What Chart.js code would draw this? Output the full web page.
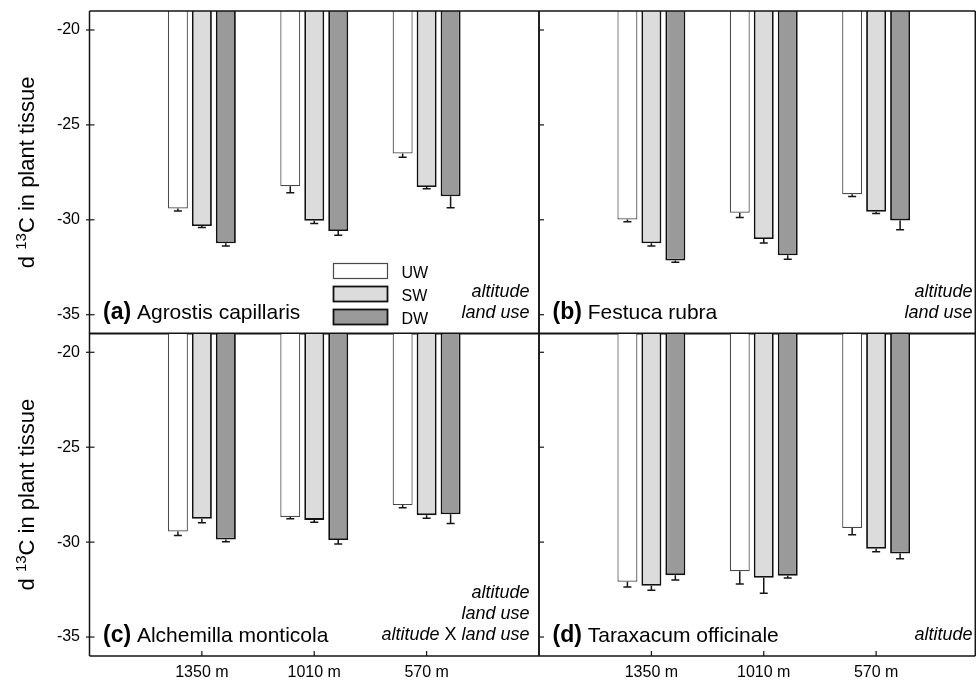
<!DOCTYPE html>
<html><head><meta charset="utf-8">
<script src="https://cdn.jsdelivr.net/npm/chart.js@4"></script>
<style>
html,body{margin:0;padding:0;background:#fff;overflow:hidden}
#wrap{position:relative;width:976px;height:683px;overflow:hidden;background:#fff}
#wrap canvas{position:absolute;left:0;top:0}
</style></head><body><div id="wrap">
<canvas id="pa" width="1000" height="683"></canvas>
<canvas id="pb" width="1000" height="683"></canvas>
<canvas id="pc" width="1000" height="683"></canvas>
<canvas id="pd" width="1000" height="683"></canvas>
</div>
<script>
// ---------- data ----------
const categories = ['1350 m', '1010 m', '570 m'];
const seriesNames = ['UW', 'SW', 'DW'];
const yTickValues = [-35, -30, -25, -20];
const yMin = -36, yMax = -19;

// (a) Agrostis capillaris
const aUW = [-29.40, -28.23, -26.51], aUWerr = [0.13, 0.35, 0.19];
const aSW = [-30.33, -30.05, -28.27], aSWerr = [0.07, 0.14, 0.10];
const aDW = [-31.24, -30.59, -28.76], aDWerr = [0.14, 0.23, 0.61];
// (b) Festuca rubra
const bUW = [-29.98, -29.63, -28.65], bUWerr = [0.12, 0.25, 0.12];
const bSW = [-31.24, -31.01, -29.58], bSWerr = [0.14, 0.21, 0.09];
const bDW = [-32.15, -31.87, -30.03], bDWerr = [0.09, 0.21, 0.49];
// (c) Alchemilla monticola
const cUW = [-29.44, -28.68, -28.05], cUWerr = [0.21, 0.09, 0.14];
const cSW = [-28.77, -28.83, -28.58], cSWerr = [0.21, 0.12, 0.16];
const cDW = [-29.86, -29.89, -28.53], cDWerr = [0.12, 0.21, 0.49];
// (d) Taraxacum officinale
const dUW = [-32.09, -31.53, -29.26], dUWerr = [0.28, 0.68, 0.35];
const dSW = [-32.30, -31.88, -30.35], dSWerr = [0.23, 0.82, 0.16];
const dDW = [-31.74, -31.77, -30.60], dDWerr = [0.25, 0.12, 0.28];

const panelLetters = ['(a)', '(b)', '(c)', '(d)'];
const speciesNames = ['Agrostis capillaris', 'Festuca rubra', 'Alchemilla monticola', 'Taraxacum officinale'];
const yTitleMain = 'd ', yTitleSup = '13', yTitleRest = 'C in plant tissue';

// ---------- styles ----------
const FONT = '"Liberation Sans", Arial, Helvetica, sans-serif';
const INK = '#151515';
const fills = ['#ffffff', '#dcdcdc', '#9a9a9a'];
const borders = ['#4a4a4a', '#111111', '#111111'];
const borderWidths = [1.2, 1.8, 1.8];
const VISIBLE_RIGHT = 975.3;

const panels = [
  { id: 'pa', vals: [aUW, aSW, aDW], errs: [aUWerr, aSWerr, aDWerr], left: true, bottom: false, legend: true,
    notes: [[['altitude', true]], [['land use', true]]], noteRight: 529.5 },
  { id: 'pb', vals: [bUW, bSW, bDW], errs: [bUWerr, bSWerr, bDWerr], left: false, bottom: false, legend: false,
    notes: [[['altitude', true]], [['land use', true]]], noteRight: 972.5 },
  { id: 'pc', vals: [cUW, cSW, cDW], errs: [cUWerr, cSWerr, cDWerr], left: true, bottom: true, legend: false,
    notes: [[['altitude', true]], [['land use', true]], [['altitude', true], [' X ', false], ['land use', true]]], noteRight: 529.5 },
  { id: 'pd', vals: [dUW, dSW, dDW], errs: [dUWerr, dSWerr, dDWerr], left: false, bottom: true, legend: false,
    notes: [[['altitude', true]]], noteRight: 972.5 },
];

const xLabels = [''].concat(categories).concat(['']);

const decorPlugin = {
  id: 'decor',
  afterDatasetsDraw(chart) {
    const p = chart.options.plugins.decor;
    const ctx = chart.ctx;
    const ca = chart.chartArea;
    const ys = chart.scales.y, xs = chart.scales.x;
    ctx.save();
    // error bars
    ctx.strokeStyle = INK;
    ctx.lineWidth = 1.5;
    chart.data.datasets.forEach((ds, di) => {
      const meta = chart.getDatasetMeta(di);
      meta.data.forEach((el, i) => {
        const v = ds.data[i], e = ds.errs[i];
        if (v == null || e == null) return;
        const y0 = ys.getPixelForValue(v), y1 = ys.getPixelForValue(v - e);
        ctx.beginPath();
        ctx.moveTo(el.x, y0); ctx.lineTo(el.x, y1);
        ctx.moveTo(el.x - 4, y1); ctx.lineTo(el.x + 4, y1);
        ctx.stroke();
      });
    });
    // frame
    const right = Math.min(ca.right, VISIBLE_RIGHT);
    ctx.lineWidth = 1.5;
    ctx.beginPath();
    ctx.moveTo(ca.left, ca.top); ctx.lineTo(right, ca.top);
    ctx.moveTo(ca.left, ca.bottom); ctx.lineTo(right, ca.bottom);
    ctx.moveTo(ca.left, ca.top); ctx.lineTo(ca.left, ca.bottom);
    ctx.moveTo(right, ca.top); ctx.lineTo(right, ca.bottom);
    ctx.stroke();
    // y tick marks
    ctx.lineWidth = 1.2;
    yTickValues.forEach(v => {
      const y = ys.getPixelForValue(v);
      ctx.beginPath();
      ctx.moveTo(ca.left - (p.left ? 3.5 : 0), y);
      ctx.lineTo(ca.left + 5, y);
      ctx.stroke();
    });
    // x tick marks (bottom panels)
    if (p.bottom) {
      categories.forEach((c, i) => {
        const x = xs.getPixelForValue(i + 1);
        ctx.beginPath();
        ctx.moveTo(x, ca.bottom); ctx.lineTo(x, ca.bottom - 5);
        ctx.stroke();
      });
    }
    // panel label
    ctx.fillStyle = '#000';
    ctx.textBaseline = 'alphabetic';
    ctx.textAlign = 'left';
    const lx = ca.left + 13.5, ly = ca.bottom - 14.5;
    ctx.font = 'bold 23px ' + FONT;
    ctx.fillText(p.letter, lx, ly);
    const lw = ctx.measureText(p.letter).width;
    ctx.font = '21px ' + FONT;
    ctx.fillText(' ' + p.name, lx + lw, ly);
    // notes (right aligned)
    const n = p.notes.length;
    p.notes.forEach((line, li) => {
      const by = ca.bottom - 16 - (n - 1 - li) * 21;
      let total = 0;
      const widths = line.map(([t, it]) => {
        ctx.font = (it ? 'italic ' : '') + '18px ' + FONT;
        const w = ctx.measureText(t).width; total += w; return w;
      });
      let x = p.noteRight - total;
      line.forEach(([t, it], k) => {
        ctx.font = (it ? 'italic ' : '') + '18px ' + FONT;
        ctx.fillText(t, x, by);
        x += widths[k];
      });
    });
    // legend
    if (p.legend) {
      chart.data.datasets.forEach((ds, di) => {
        const top = 263.5 + di * 23;
        ctx.fillStyle = ds.backgroundColor;
        ctx.fillRect(333.5, top, 54, 15);
        ctx.strokeStyle = ds.borderColor;
        ctx.lineWidth = ds.borderWidth;
        ctx.strokeRect(333.5, top, 54, 15);
        ctx.fillStyle = '#000';
        ctx.font = '16px ' + FONT;
        ctx.fillText(ds.label, 401.5, top + 14);
      });
    }
    // y axis title
    if (p.left) {
      ctx.save();
      ctx.translate(34, (ca.top + ca.bottom) / 2);
      ctx.rotate(-Math.PI / 2);
      ctx.fillStyle = '#000';
      ctx.font = '22px ' + FONT;
      const w1 = ctx.measureText(yTitleMain).width;
      const w3 = ctx.measureText(yTitleRest).width;
      ctx.font = '15px ' + FONT;
      const w2 = ctx.measureText(yTitleSup).width;
      let x = -(w1 + w2 + w3) / 2;
      ctx.textAlign = 'left';
      ctx.font = '22px ' + FONT;
      ctx.fillText(yTitleMain, x, 0); x += w1;
      ctx.font = '15px ' + FONT;
      ctx.fillText(yTitleSup, x, -8); x += w2;
      ctx.font = '22px ' + FONT;
      ctx.fillText(yTitleRest, x, 0);
      ctx.restore();
    }
    ctx.restore();
  }
};

panels.forEach((p, pi) => {
  const datasets = seriesNames.map((s, si) => ({
    label: s,
    data: [null].concat(p.vals[si]).concat([null]),
    errs: [null].concat(p.errs[si]).concat([null]),
    backgroundColor: fills[si],
    borderColor: borders[si],
    borderWidth: borderWidths[si],
    borderSkipped: 'start',
    categoryPercentage: 0.64,
    barPercentage: 0.833,
  }));
  const plotLeft = p.left ? 89.5 : 539;
  const plotRight = plotLeft + 449.5;
  const plotTop = p.bottom ? 333.3 : 11;
  const plotBottom = plotTop + 322.7;
  new Chart(document.getElementById(p.id), {
    type: 'bar',
    data: { labels: xLabels, datasets },
    options: {
      responsive: false,
      animation: false,
      devicePixelRatio: 1,
      events: [],
      layout: {
        padding: {
          left: p.left ? 0 : plotLeft,
          right: 1000 - plotRight,
          top: plotTop,
          bottom: p.bottom ? 0 : 683 - plotBottom,
        }
      },
      scales: {
        x: {
          type: 'category',
          offset: false,
          display: p.bottom,
          grid: { display: false, drawTicks: false },
          border: { display: false },
          ticks: { autoSkip: false, maxRotation: 0, minRotation: 0, padding: 7, color: '#000', font: { family: FONT, size: 16 } },
          afterFit: (sc) => { if (p.bottom) { sc.height = 683 - plotBottom; sc.paddingLeft = 0; sc.paddingRight = 0; } },
        },
        y: {
          type: 'linear',
          min: yMin, max: yMax,
          display: p.left,
          grid: { display: false, drawTicks: false },
          border: { display: false },
          afterBuildTicks: (sc) => { sc.ticks = yTickValues.map(v => ({ value: v })); },
          ticks: { padding: 9.5, color: '#000', font: { family: FONT, size: 16 }, callback: (v) => String(v) },
          afterFit: (sc) => { if (p.left) { sc.width = plotLeft; sc.paddingTop = 0; sc.paddingBottom = 0; } },
        }
      },
      plugins: {
        legend: { display: false },
        tooltip: { enabled: false },
        decor: { left: p.left, bottom: p.bottom, legend: p.legend, letter: panelLetters[pi], name: speciesNames[pi], notes: p.notes, noteRight: p.noteRight },
      }
    },
    plugins: [decorPlugin]
  });
});
</script>
</body></html>
